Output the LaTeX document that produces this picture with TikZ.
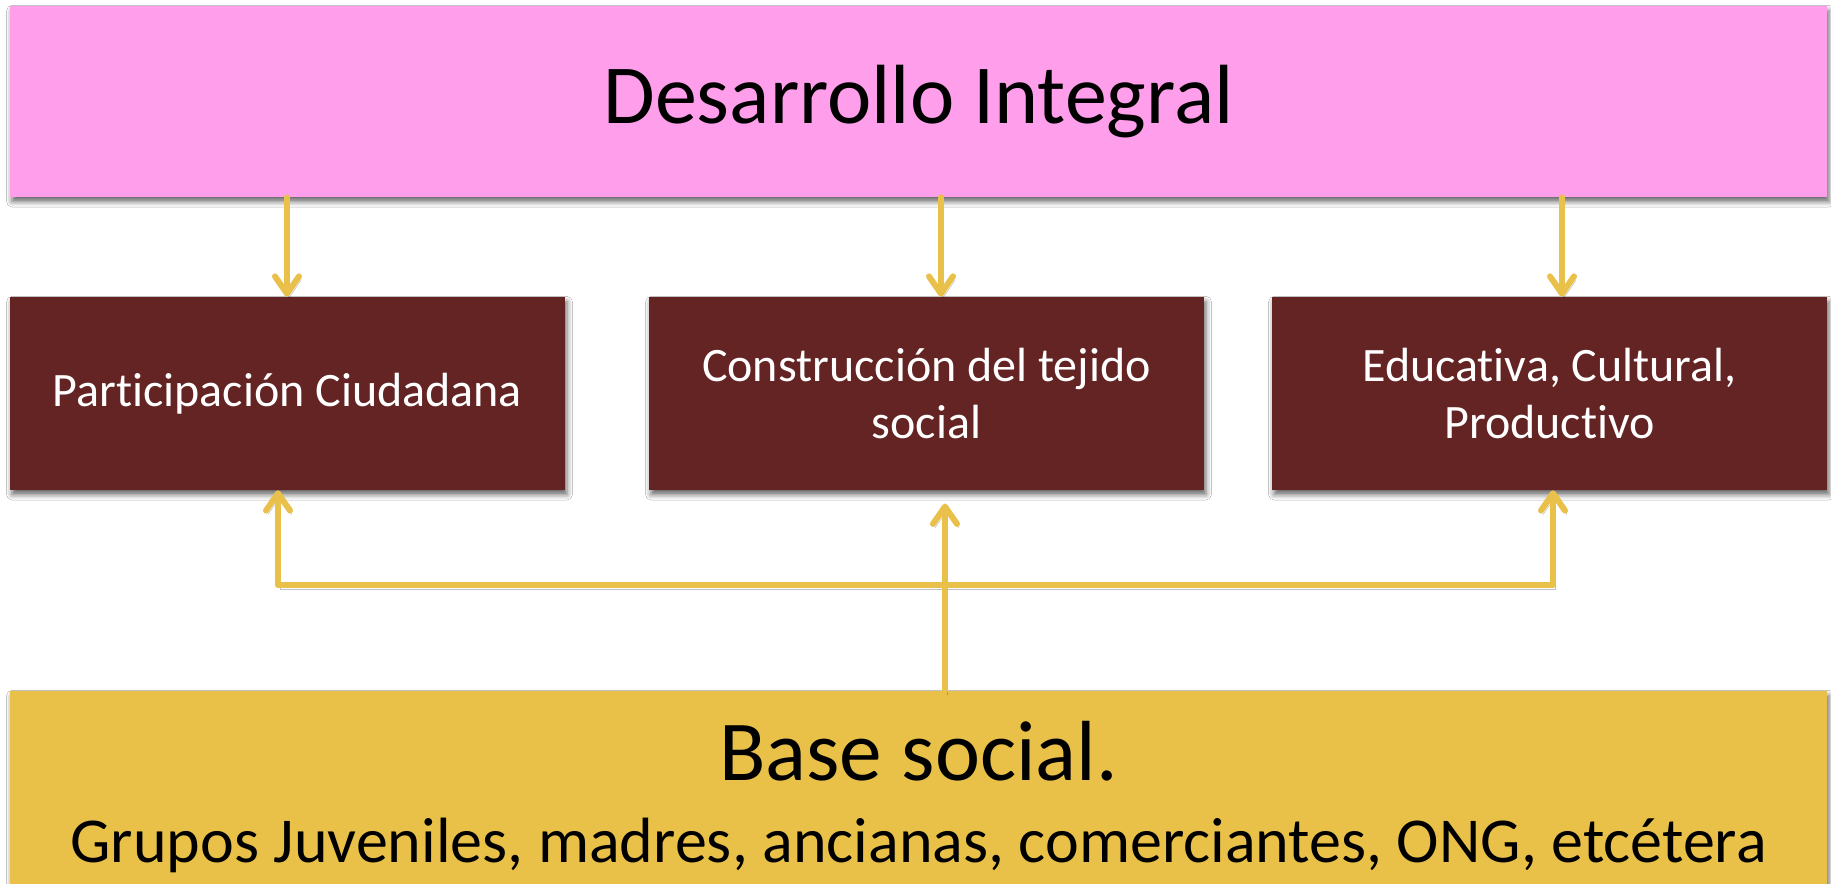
\documentclass[tikz,border=0pt]{standalone}
\usepackage{fontspec}
\setmainfont[RawFeature={-liga;-dlig}]{Carlito}
\usetikzlibrary{arrows.meta,shadows.blur}
\definecolor{pinkc}{HTML}{FF9EEB}
\definecolor{maroonc}{HTML}{632423}
\definecolor{yellowc}{HTML}{E9C149}
\definecolor{arrowc}{HTML}{E9C049}
\begin{document}
\begin{tikzpicture}[x=0.75pt,y=-0.75pt,
  boxshadow/.style={blur shadow={shadow xshift=1.5pt, shadow yshift=-3.5pt, shadow blur radius=4pt, shadow opacity=60}},
  bigbox/.style={rectangle, inner sep=0pt, minimum width=1817*0.75pt, boxshadow},
  midbox/.style={rectangle, inner sep=0pt, fill=maroonc, text=white, minimum width=555*0.75pt, minimum height=193*0.75pt, align=center, font=\fontsize{36}{43}\selectfont, boxshadow},
  conn/.style={draw=arrowc, line width=4.5pt, line join=round, line cap=round,
    preaction={draw=black, opacity=0.25, transform canvas={shift={(1.5pt,-3pt)}}}},
  tip/.style={Straight Barb[length=13pt, width=18pt, line cap=round, line join=round]},
  arr/.style={conn, -{Straight Barb[length=13pt, width=18pt, line cap=round, line join=round]}},
  arrboth/.style={conn, {Straight Barb[length=13pt, width=18pt, line cap=round, line join=round]}-{Straight Barb[length=13pt, width=18pt, line cap=round, line join=round]}}
]
\useasboundingbox (0,0) rectangle (1831,884);
\fill[white] (0,0) rectangle (1831,884);

\node[bigbox, fill=pinkc, minimum height=191*0.75pt, font=\fontsize{63}{75}\selectfont] (top) at (918.5,101.5) {Desarrollo Integral};

\node[midbox] (p1) at (287.5,393.5) {Participación Ciudadana};
\node[midbox] (p2) at (926.5,393.5) {Construcción del tejido\\social};
\node[midbox] (p3) at (1549.5,393.5) {Educativa, Cultural,\\Productivo};

\node[bigbox, fill=yellowc, minimum height=199*0.75pt] (base) at (918.5,790.5) {};
\node[anchor=base, inner sep=0pt, font=\fontsize{64}{75}\selectfont] (bt1) at (918.5,780) {Base social.};
\node[anchor=base, inner sep=0pt, font=\fontsize{48}{55}\selectfont] (bt2) at (918.5,862) {Grupos Juveniles, madres, ancianas, comerciantes, ONG, etcétera};

\coordinate (d1) at (287,0);
\coordinate (d2) at (941,0);
\coordinate (d3) at (1562,0);
\draw[arr] (top.south -| d1) -- (p1.north -| d1);
\draw[arr] (top.south -| d2) -- (p2.north -| d2);
\draw[arr] (top.south -| d3) -- (p3.north -| d3);

\coordinate (bl) at (278,585);
\coordinate (bm) at (945,585);
\coordinate (br) at (1553,585);
\draw[arrboth] (p1.south -| bl) -- (bl) -- (br) -- (p3.south -| br);
\draw[arr, shorten >=10pt] (base.north -| bm) -- (p2.south -| bm);
\end{tikzpicture}
\end{document}
